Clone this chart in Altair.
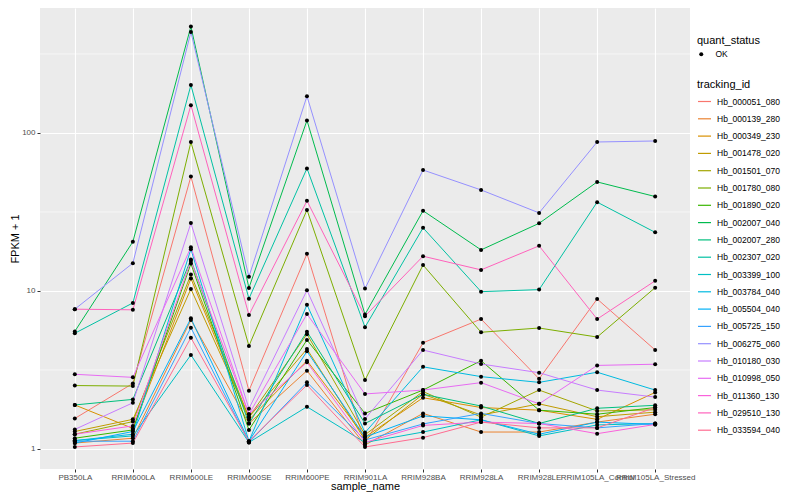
import altair as alt
import pandas as pd

samples = ["PB350LA", "RRIM600LA", "RRIM600LE", "RRIM600SE", "RRIM600PE", "RRIM901LA",
           "RRIM928BA", "RRIM928LA", "RRIM928LE", "RRIM105LA_Control", "RRIM105LA_Stressed"]

tracking_ids = ["Hb_000051_080", "Hb_000139_280", "Hb_000349_230", "Hb_001478_020", "Hb_001501_070",
                "Hb_001780_080", "Hb_001890_020", "Hb_002007_040", "Hb_002007_280", "Hb_002307_020",
                "Hb_003399_100", "Hb_003784_040", "Hb_005504_040", "Hb_005725_150", "Hb_006275_060",
                "Hb_010180_030", "Hb_010998_050", "Hb_011360_130", "Hb_029510_130", "Hb_033594_040"]

palette = ["#F8766D", "#EA8331", "#D89000", "#C09B00", "#A3A500", "#7CAE00", "#39B600", "#00BB4E",
           "#00BF7D", "#00C1A3", "#00BFC4", "#00BAE0", "#00B0F6", "#35A2FF", "#9590FF", "#C77CFF",
           "#E76BF3", "#FA62DB", "#FF62BC", "#FF6C91"]

v_000051_080 = [1.56, 2.60, 53.0, 2.34, 17.2, 1.08, 4.70, 6.64, 2.78, 8.90, 4.23]
v_000139_280 = [1.09, 1.17, 6.55, 1.45, 3.13, 1.06, 1.68, 1.28, 1.28, 1.48, 1.66]
v_000349_230 = [1.90, 1.35, 12.0, 1.53, 3.62, 1.19, 2.11, 1.83, 1.76, 1.54, 2.28]
v_001478_020 = [1.29, 1.54, 10.3, 1.59, 4.29, 1.14, 2.22, 1.64, 1.93, 1.60, 1.71]
v_001501_070 = [1.24, 1.49, 12.7, 1.59, 5.33, 1.23, 2.31, 1.59, 2.36, 1.74, 1.77]
v_001780_080 = [2.52, 2.50, 87.6, 4.49, 32.6, 2.73, 14.6, 5.48, 5.83, 5.11, 10.5]
v_001890_020 = [1.17, 1.32, 14.9, 1.32, 4.90, 1.68, 2.36, 3.62, 1.76, 1.66, 1.83]
v_002007_040 = [5.55, 20.5, 472.0, 10.46, 120.0, 7.10, 32.2, 18.2, 26.8, 49.0, 39.6]
v_002007_280 = [1.90, 2.06, 15.8, 1.45, 5.53, 1.45, 2.22, 1.87, 1.45, 1.81, 1.89]
v_002307_020 = [5.40, 8.40, 201.0, 8.94, 59.7, 5.90, 25.1, 9.90, 10.2, 36.5, 23.5]
v_003399_100 = [1.13, 1.21, 3.94, 1.10, 1.85, 1.10, 1.28, 1.53, 1.21, 1.42, 1.45]
v_003784_040 = [1.13, 1.24, 18.4, 1.12, 8.19, 1.27, 3.31, 2.87, 2.64, 3.06, 2.36]
v_005504_040 = [1.09, 1.29, 6.71, 1.12, 4.15, 1.19, 1.62, 1.53, 1.24, 1.48, 1.43]
v_005725_150 = [1.12, 1.12, 5.86, 1.10, 2.64, 1.14, 1.44, 1.68, 1.45, 1.36, 1.45]
v_006275_060 = [7.67, 15.0, 436.0, 12.3, 171.0, 10.35, 58.3, 43.6, 31.2, 87.7, 89.0]
v_010180_030 = [1.33, 1.96, 26.9, 1.80, 10.1, 1.55, 4.23, 3.45, 3.04, 2.36, 2.13]
v_010998_050 = [2.97, 2.84, 18.9, 1.66, 7.14, 2.23, 2.36, 2.63, 1.93, 3.38, 3.44]
v_011360_130 = [1.24, 1.40, 15.5, 1.66, 3.54, 1.10, 1.41, 1.48, 1.45, 1.25, 1.43]
v_029510_130 = [7.67, 7.60, 150.0, 7.05, 37.2, 6.93, 16.6, 13.6, 19.3, 6.64, 11.6]
v_033594_040 = [1.03, 1.09, 5.06, 1.12, 2.54, 1.03, 1.18, 1.48, 1.36, 1.36, 1.83]

series = [v_000051_080, v_000139_280, v_000349_230, v_001478_020, v_001501_070, v_001780_080,
          v_001890_020, v_002007_040, v_002007_280, v_002307_020, v_003399_100, v_003784_040,
          v_005504_040, v_005725_150, v_006275_060, v_010180_030, v_010998_050, v_011360_130,
          v_029510_130, v_033594_040]

minor_breaks = [10 ** 0.5, 10 ** 1.5, 10 ** 2.5]

rows = []
for tid, vals in zip(tracking_ids, series):
    for i, (s, v) in enumerate(zip(samples, vals)):
        rows.append({"tracking_id": tid, "sample_name": s, "idx": i, "value": v, "quant_status": "OK"})
df = pd.DataFrame(rows)
minor_df = pd.DataFrame({"value": minor_breaks})

FONT = "Liberation Sans"
W, H = 650, 461

x_scale = alt.Scale(type="point", padding=0.6)
x_axis = alt.Axis(title="sample_name", labelAngle=0, labelOverlap=False, labelFlush=False,
                  labelBound=False, labelColor="#4D4D4D", labelFontSize=8, labelFont=FONT,
                  tickColor="#333333", tickSize=3, labelPadding=1, domain=False,
                  grid=True, gridColor="white", gridWidth=1.1,
                  titleFont=FONT, titleFontSize=11, titleFontWeight="normal", titleColor="black",
                  titleX=W / 2, titleY=20.5, titleBaseline="alphabetic")
y_scale = alt.Scale(type="log", domain=[0.747, 618], nice=False)
y_axis = alt.Axis(title="FPKM + 1", values=[1, 10, 100], format="d", labelColor="#4D4D4D",
                  labelFontSize=8, labelFont=FONT, tickColor="#333333", tickSize=3,
                  labelPadding=2, domain=False, grid=True, gridColor="white", gridWidth=1.1,
                  titleFont=FONT, titleFontSize=11, titleFontWeight="normal", titleColor="black",
                  titleX=-25, titleY=H / 2, titleAngle=270, titleAlign="center",
                  titleBaseline="middle")

minor = alt.Chart(minor_df).mark_rule(color="white", strokeWidth=0.6).encode(
    y=alt.Y("value:Q", scale=y_scale, axis=y_axis)
)

lines = alt.Chart(df).mark_line(strokeWidth=1).encode(
    x=alt.X("sample_name:N", sort=samples, scale=x_scale, axis=x_axis),
    y=alt.Y("value:Q", scale=y_scale, axis=y_axis),
    color=alt.Color("tracking_id:N", sort=tracking_ids,
                    scale=alt.Scale(domain=tracking_ids, range=palette),
                    legend=alt.Legend(title="tracking_id", orient="none", legendX=657, legendY=71,
                                      symbolType="stroke", symbolSize=170, symbolStrokeWidth=1.2,
                                      rowPadding=5.3, labelFontSize=8.5, labelFont=FONT,
                                      titleFont=FONT, titleFontSize=11, titleFontWeight="normal",
                                      titlePadding=4, labelOffset=5, labelColor="black")),
    detail="tracking_id:N",
    order=alt.Order("idx:Q"),
)

points = alt.Chart(df).mark_point(filled=True, color="black", size=16, opacity=1).encode(
    x=alt.X("sample_name:N", sort=samples, scale=x_scale, axis=x_axis),
    y=alt.Y("value:Q", scale=y_scale, axis=y_axis),
    shape=alt.Shape("quant_status:N", scale=alt.Scale(domain=["OK"], range=["circle"]),
                    legend=alt.Legend(title="quant_status", orient="none", legendX=657, legendY=27,
                                      symbolSize=16, symbolFillColor="black", symbolStrokeColor="black",
                                      labelFontSize=8.5, labelFont=FONT, titleFont=FONT,
                                      titleFontSize=11, titleFontWeight="normal", titlePadding=4,
                                      labelOffset=10, labelColor="black")),
)

chart = alt.layer(minor, lines, points).properties(
    width=W, height=H,
    autosize=alt.AutoSizeParams(type="none"),
    padding={"left": 32, "top": 0, "right": 102, "bottom": 23},
).configure_view(fill="#EBEBEB", stroke=None)

chart.save("out.html", embed_options={"renderer": "svg", "actions": False})
